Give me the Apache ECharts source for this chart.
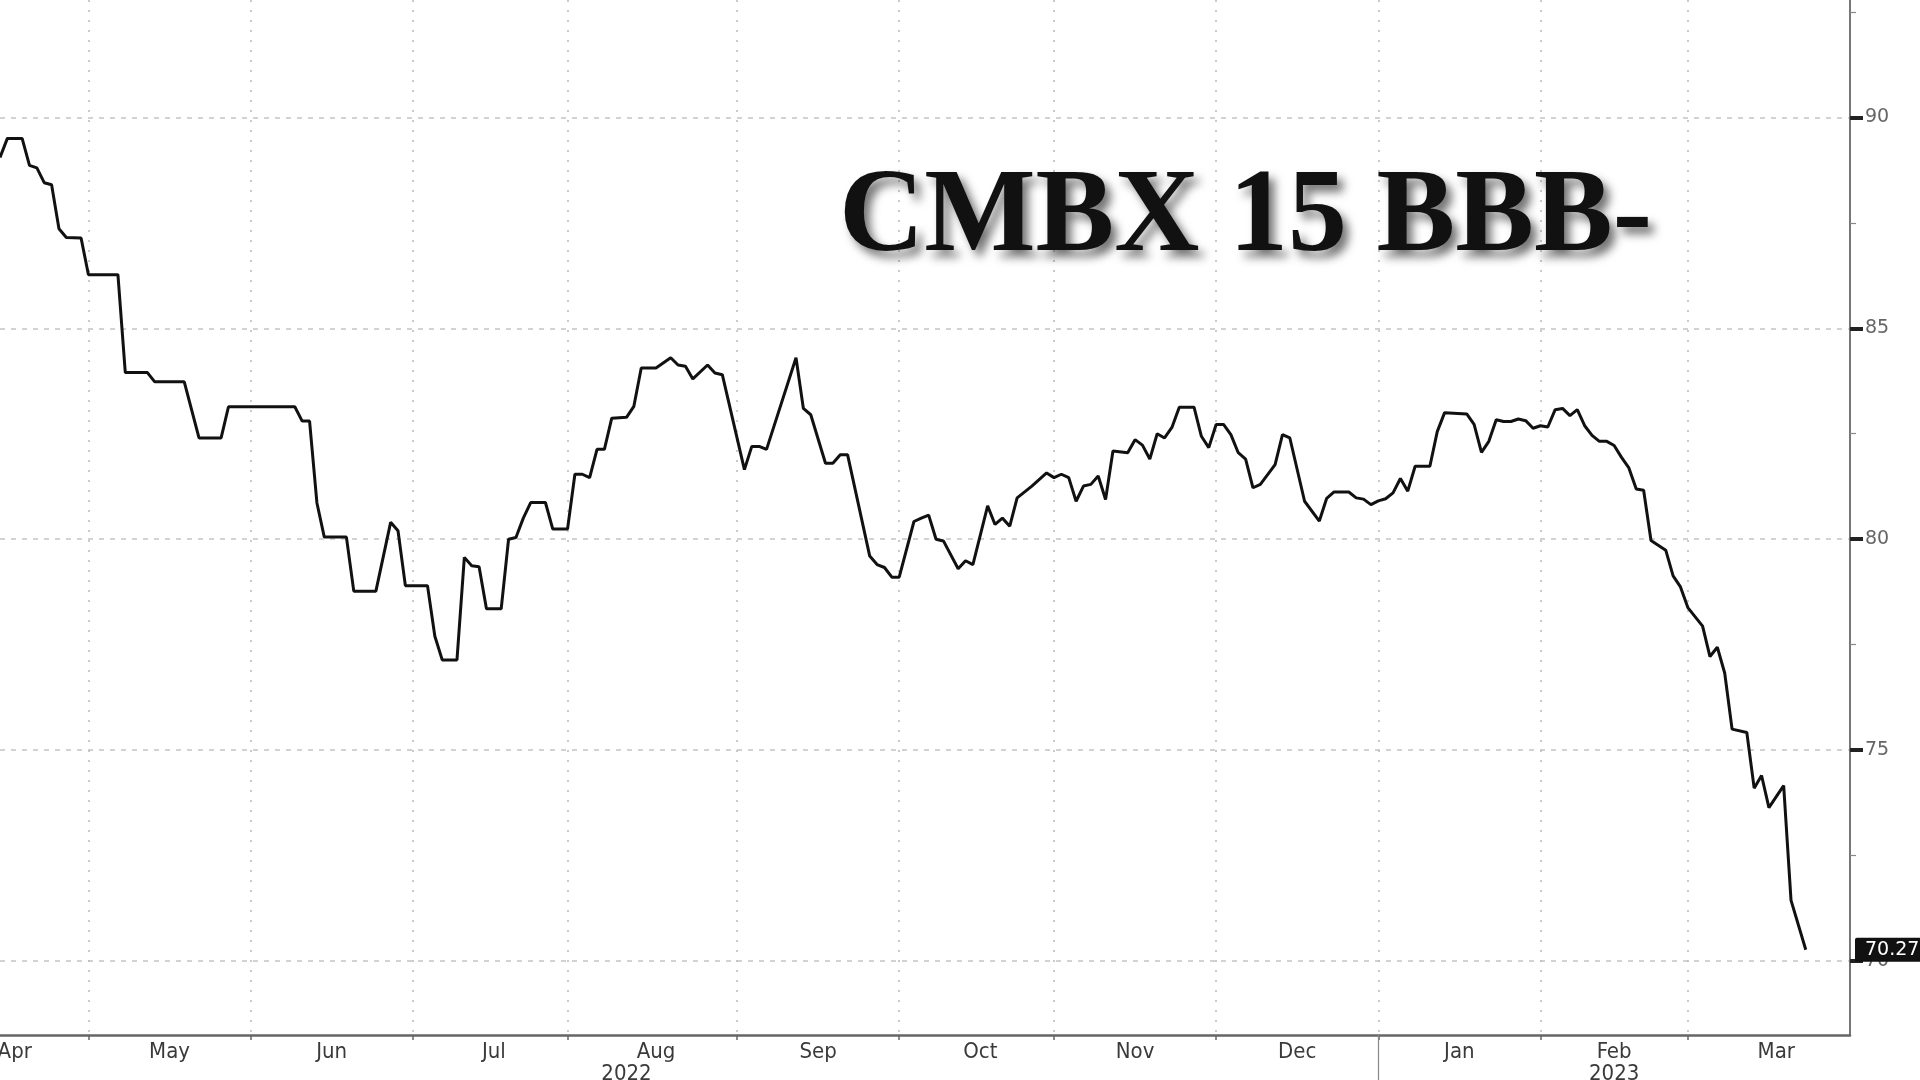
<!DOCTYPE html>
<html><head><meta charset="utf-8">
<script src="https://cdn.jsdelivr.net/npm/echarts@6/dist/echarts.min.js"></script>
<style>html,body{margin:0;padding:0;background:#fff}#c{width:1920px;height:1080px}</style>
</head><body><div id="c"></div>
<script>
const titleText = 'CMBX 15 BBB-';
const monthNames = ['Jan','Feb','Mar','Apr','May','Jun','Jul','Aug','Sep','Oct','Nov','Dec'];
const yMajorTicks = [70, 75, 80, 85, 90];
const yMinorTicks = [72.5, 77.5, 82.5, 87.5, 92.5];
const lastValue = [70.27];
const yearLabels = ['2022', '2023'];
const yearLabelDates = ['2022-08-11', '2023-02-15'];
const yearDividerDate = '2023-01-02';
const axisFirstDay = '2022-04-14';
const calendarFrom = '2022-04-01';
const calendarTo = '2023-03-31';

const dates = [
'2022-04-14','2022-04-15','2022-04-19','2022-04-20','2022-04-21','2022-04-22','2022-04-25','2022-04-26','2022-04-27','2022-04-29',
'2022-05-02','2022-05-06','2022-05-09','2022-05-12','2022-05-13','2022-05-19','2022-05-23','2022-05-26','2022-05-27',
'2022-06-09','2022-06-10','2022-06-13','2022-06-14','2022-06-15','2022-06-20','2022-06-21','2022-06-24','2022-06-28','2022-06-29','2022-06-30',
'2022-07-05','2022-07-06','2022-07-07','2022-07-11','2022-07-12','2022-07-13','2022-07-14','2022-07-15','2022-07-19','2022-07-20','2022-07-21','2022-07-22','2022-07-25','2022-07-27','2022-07-28',
'2022-08-01','2022-08-02','2022-08-03','2022-08-04','2022-08-05','2022-08-08','2022-08-09','2022-08-11','2022-08-12','2022-08-15','2022-08-17','2022-08-19','2022-08-22','2022-08-23','2022-08-24','2022-08-26','2022-08-29','2022-08-30',
'2022-09-02','2022-09-05','2022-09-06','2022-09-07','2022-09-13','2022-09-14','2022-09-15','2022-09-19','2022-09-20','2022-09-21','2022-09-22','2022-09-27','2022-09-28','2022-09-29','2022-09-30',
'2022-10-03','2022-10-05','2022-10-06','2022-10-07','2022-10-10','2022-10-11','2022-10-13','2022-10-14','2022-10-17','2022-10-19','2022-10-20','2022-10-21','2022-10-24','2022-10-25','2022-10-27','2022-10-31',
'2022-11-01','2022-11-02','2022-11-03','2022-11-04','2022-11-07','2022-11-08','2022-11-09','2022-11-10','2022-11-11','2022-11-15','2022-11-16','2022-11-17','2022-11-18','2022-11-21','2022-11-22','2022-11-23','2022-11-24','2022-11-28','2022-11-29','2022-11-30',
'2022-12-01','2022-12-02','2022-12-05','2022-12-06','2022-12-07','2022-12-08','2022-12-09','2022-12-13','2022-12-14','2022-12-15','2022-12-19','2022-12-21','2022-12-22','2022-12-23','2022-12-27','2022-12-28','2022-12-29','2022-12-30',
'2023-01-02','2023-01-03','2023-01-04','2023-01-05','2023-01-06','2023-01-09','2023-01-11','2023-01-12','2023-01-13','2023-01-18','2023-01-19','2023-01-20','2023-01-23','2023-01-24','2023-01-25','2023-01-26','2023-01-27','2023-01-30','2023-01-31',
'2023-02-01','2023-02-02','2023-02-03','2023-02-06','2023-02-07','2023-02-08','2023-02-09','2023-02-10','2023-02-13','2023-02-14','2023-02-15','2023-02-16','2023-02-17','2023-02-20','2023-02-21','2023-02-22','2023-02-24','2023-02-27','2023-02-28',
'2023-03-01','2023-03-03','2023-03-06','2023-03-07','2023-03-08','2023-03-09','2023-03-13','2023-03-14','2023-03-15','2023-03-16','2023-03-20','2023-03-21','2023-03-23'
];
const values = [
89.05,89.5,89.5,88.86,88.8,88.45,88.4,87.36,87.15,87.14,
86.27,86.27,83.95,83.95,83.73,83.73,82.4,82.4,83.14,
83.14,82.8,82.8,80.86,80.05,80.05,78.77,78.77,80.4,80.2,78.9,
78.9,77.7,77.14,77.14,79.57,79.37,79.35,78.35,78.35,80.0,80.04,80.5,80.87,80.87,80.24,
80.24,81.54,81.54,81.46,82.13,82.13,82.87,82.89,83.15,84.06,84.06,84.3,84.13,84.1,83.8,84.13,83.94,83.9,
81.65,82.2,82.2,82.13,84.3,83.1,82.95,81.8,81.8,82.0,82.0,79.6,79.4,79.33,79.1,
79.1,80.42,80.5,80.57,80.0,79.96,79.3,79.49,79.4,80.79,80.35,80.5,80.31,80.98,81.26,81.57,
81.46,81.54,81.46,80.9,81.26,81.3,81.5,80.94,82.09,82.05,82.36,82.23,81.9,82.5,82.4,82.65,83.13,83.13,82.44,82.17,
82.72,82.72,82.48,82.05,81.9,81.22,81.3,81.77,82.48,82.4,80.9,80.43,80.97,81.12,81.12,80.98,80.95,80.82,
80.91,80.96,81.1,81.44,81.14,81.73,81.73,82.55,83.0,82.97,82.72,82.06,82.32,82.83,82.79,82.79,82.85,82.81,82.63,
82.69,82.66,83.07,83.1,82.93,83.07,82.69,82.46,82.32,82.32,82.22,81.94,81.69,81.19,81.16,79.97,79.74,79.13,78.87,
78.38,77.94,77.22,77.44,76.83,75.5,75.42,74.1,74.4,73.64,74.16,71.44,70.27
];

function weekdays(from, to) {
  const out = [];
  let d = new Date(from + 'T00:00:00Z');
  const end = new Date(to + 'T00:00:00Z');
  while (d <= end) {
    const w = d.getUTCDay();
    if (w !== 0 && w !== 6) out.push(d.toISOString().slice(0, 10));
    d = new Date(d.getTime() + 86400000);
  }
  return out;
}
const allDays = weekdays(calendarFrom, calendarTo);
const offset = allDays.indexOf(axisFirstDay);
const cats = allDays.slice(offset);

const monthStart = new Set();
for (let i = 1; i < cats.length; i++) {
  if (cats[i].slice(0, 7) !== cats[i - 1].slice(0, 7)) monthStart.add(i);
}
const monthLabel = {};
{
  const groups = {};
  allDays.forEach((d, i) => {
    const k = d.slice(0, 7);
    if (!groups[k]) groups[k] = { first: i, n: 0 };
    groups[k].n++;
  });
  Object.keys(groups).forEach(k => {
    const g = groups[k];
    const idx = Math.round(g.first + g.n / 2 - offset);
    monthLabel[idx] = monthNames[parseInt(k.slice(5, 7), 10) - 1];
  });
}
const yearLabelMap = {};
yearLabelDates.forEach((d, i) => { yearLabelMap[cats.indexOf(d)] = yearLabels[i]; });
const dividerIdx = cats.indexOf(yearDividerDate);

const seriesData = dates.map((d, i) => [d, values[i]]);

const labelFont = "'Liberation Sans Narrow', 'DejaVu Sans Condensed', 'Liberation Sans', sans-serif";
const numFont = "'DejaVu Sans', 'Liberation Sans', sans-serif";
const yMin = 68.25, yMax = 92.78;

const chart = echarts.init(document.getElementById('c'), null, { renderer: 'canvas' });
chart.setOption({
  animation: false,
  backgroundColor: '#ffffff',
  title: {
    text: titleText,
    left: 834,
    top: 156,
    textStyle: {
      fontFamily: "'Liberation Serif', 'DejaVu Serif', serif",
      fontWeight: 'bold',
      fontSize: 118,
      color: '#111111',
      textShadowColor: 'rgba(0,0,0,0.55)',
      textShadowBlur: 10,
      textShadowOffsetX: 6,
      textShadowOffsetY: 7
    }
  },
  grid: { left: 0, right: 70, top: 0, bottom: 45, containLabel: false, outerBoundsMode: 'none' },
  xAxis: [
    {
      type: 'category',
      data: cats,
      boundaryGap: false,
      position: 'bottom',
      axisLine: { show: true, lineStyle: { color: '#666', width: 2.5 } },
      axisTick: { show: true, interval: (i) => monthStart.has(i), length: 5, lineStyle: { color: '#666', width: 1.5 } },
      axisLabel: {
        interval: (i) => monthLabel[i] !== undefined,
        formatter: (v, i) => monthLabel[i] || '',
        color: '#3a3a3a', fontSize: 22, fontFamily: labelFont, margin: 6,
        hideOverlap: false
      },
      splitLine: { show: true, interval: (i) => monthStart.has(i), lineStyle: { color: '#bdbdbd', width: 1.6, type: [2, 8] } }
    },
    {
      type: 'category',
      data: cats,
      boundaryGap: false,
      position: 'bottom',
      axisLine: { show: false },
      axisTick: { show: true, interval: (i) => i === dividerIdx, length: 45, lineStyle: { color: '#888', width: 1.2 } },
      axisLabel: {
        interval: (i) => yearLabelMap[i] !== undefined,
        formatter: (v, i) => yearLabelMap[i] || '',
        color: '#3a3a3a', fontSize: 22, fontFamily: labelFont, margin: 28,
        hideOverlap: false
      },
      splitLine: { show: false }
    }
  ],
  yAxis: [
    {
      type: 'value', position: 'right', min: yMin, max: yMax, scale: true,
      axisLine: { show: true, lineStyle: { color: '#777', width: 2 } },
      axisTick: { show: true, customValues: yMajorTicks, length: 13, lineStyle: { color: '#222', width: 4 } },
      axisLabel: { customValues: yMajorTicks, color: '#666', fontSize: 19, fontFamily: numFont, margin: 15 },
      splitLine: { show: true, lineStyle: { color: '#c4c4c4', width: 1.6, type: [5, 6] } }
    },
    {
      type: 'value', position: 'right', min: yMin, max: yMax, scale: true,
      axisLine: { show: false },
      axisTick: { show: true, customValues: yMinorTicks, length: 6, lineStyle: { color: '#888', width: 1.2 } },
      axisLabel: { show: false },
      splitLine: { show: false }
    },
    {
      type: 'value', position: 'right', min: yMin, max: yMax, scale: true, z: 10,
      axisLine: { show: false },
      axisTick: { show: false },
      axisLabel: {
        customValues: lastValue,
        formatter: (v) => v.toFixed(2),
        color: '#ffffff', backgroundColor: '#111111', borderRadius: 2,
        padding: [3, 8, 2, 10], fontSize: 19, fontFamily: numFont, margin: 5
      },
      splitLine: { show: false }
    }
  ],
  series: [{
    type: 'line',
    xAxisIndex: 0, yAxisIndex: 0,
    data: seriesData,
    showSymbol: false,
    symbol: 'none',
    lineStyle: { color: '#111111', width: 3 },
    z: 5
  }]
});
</script>
</body></html>
